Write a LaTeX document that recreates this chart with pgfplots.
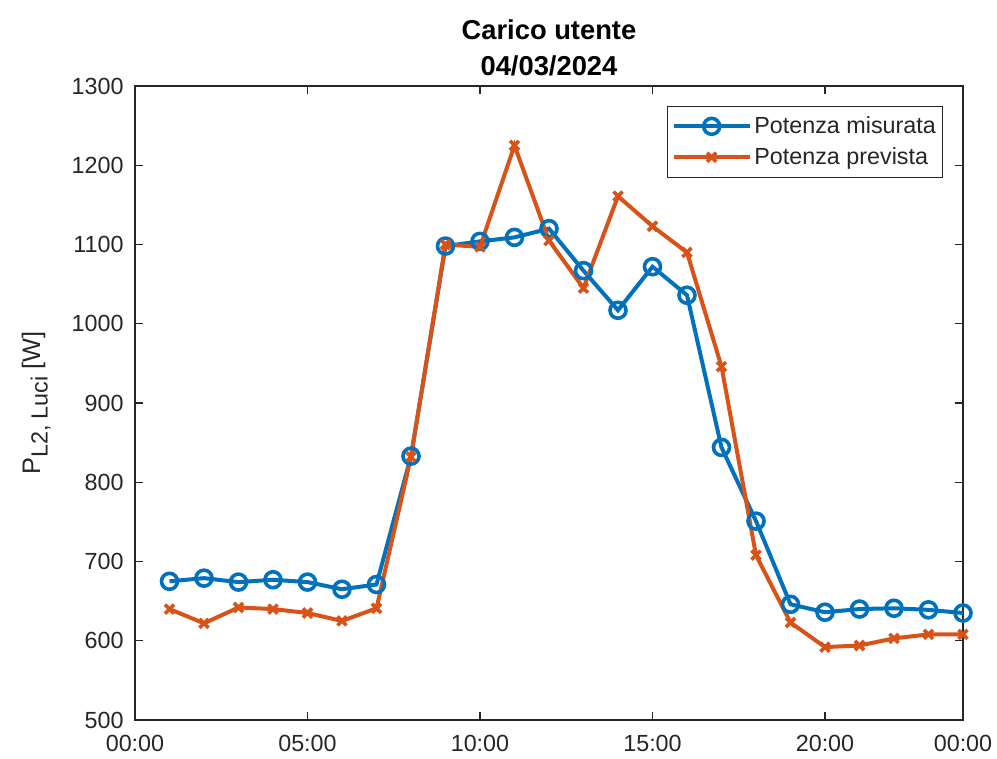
\documentclass[border=0pt]{standalone}
\usepackage{pgfplots}
\pgfplotsset{compat=1.18}
\usepackage{fontspec}
\setmainfont{Liberation Sans}
\definecolor{mblue}{HTML}{0072BD}
\definecolor{morange}{HTML}{D95319}
\definecolor{axgray}{HTML}{262626}
\begin{document}
\begin{tikzpicture}
\useasboundingbox (-101.25pt,-28.5pt) rectangle (646.5pt,540pt);
\begin{axis}[
  scale only axis,
  width=621pt, height=475.5pt,
  xmin=0, xmax=24, ymin=500, ymax=1300,
  xtick={0,5,10,15,20,24},
  xticklabels={00:00,05:00,10:00,15:00,20:00,00:00},
  ytick={500,600,...,1300},
  tick align=inside, tick pos=both,
  major tick length=6pt,
  axis line style={axgray, line width=0.8pt},
  tick style={axgray, line width=0.8pt},
  every tick label/.append style={font=\fontsize{17.5}{20}\selectfont, text=axgray},
  /pgf/number format/assume math mode=true,
  /pgf/number format/1000 sep={},
  yticklabel style={xshift=-5pt},
  xticklabel style={yshift=-8pt},
  ylabel={P\raisebox{-0.55ex}{\fontsize{17.5}{20}\selectfont L2, Luci} [W]},
  ylabel style={font=\fontsize{19}{22}\selectfont, text=axgray, yshift=9pt},
  title={\textbf{Carico utente}\\\textbf{04/03/2024}},
  title style={font=\fontsize{20.5}{27}\selectfont, align=center, yshift=-2pt},
  legend style={at={(rel axis cs:0.976,0.969)}, anchor=north east,
    draw=axgray, line width=0.8pt, fill=white,
    font=\fontsize{17.5}{21}\selectfont, text=axgray,
    inner xsep=3pt, inner ysep=6pt, row sep=5pt},
  legend cell align=left,
  legend image code/.code={
    \draw[#1] (0pt,0pt) -- (28.5pt,0pt) -- (57pt,0pt);
    \draw[#1, only marks] plot coordinates {(28.5pt,0pt)};
  },
]
\addplot[mblue, line width=3pt, mark=o, mark size=6pt, mark options={line width=2.7pt}]
coordinates {
(1,675)(2,679)(3,674)(4,677)(5,674)(6,665)(7,671)(8,833)(9,1098)(10,1104)
(11,1109)(12,1120)(13,1067)(14,1017)(15,1072)(16,1036)(17,844)(18,751)
(19,646)(20,636)(21,640)(22,641)(23,639)(24,635)
};
\addlegendentry{Potenza misurata}
\addplot[morange, line width=3pt, mark=x, mark size=4.8pt, mark options={line width=2.7pt}]
coordinates {
(1,640)(2,622)(3,642)(4,640)(5,635)(6,625)(7,641)(8,832)(9,1100)(10,1097)
(11,1225)(12,1105)(13,1045)(14,1161)(15,1123)(16,1090)(17,946)(18,708)
(19,623)(20,592)(21,594)(22,603)(23,608)(24,608)
};
\addlegendentry{Potenza prevista}
\end{axis}
\end{tikzpicture}
\end{document}
